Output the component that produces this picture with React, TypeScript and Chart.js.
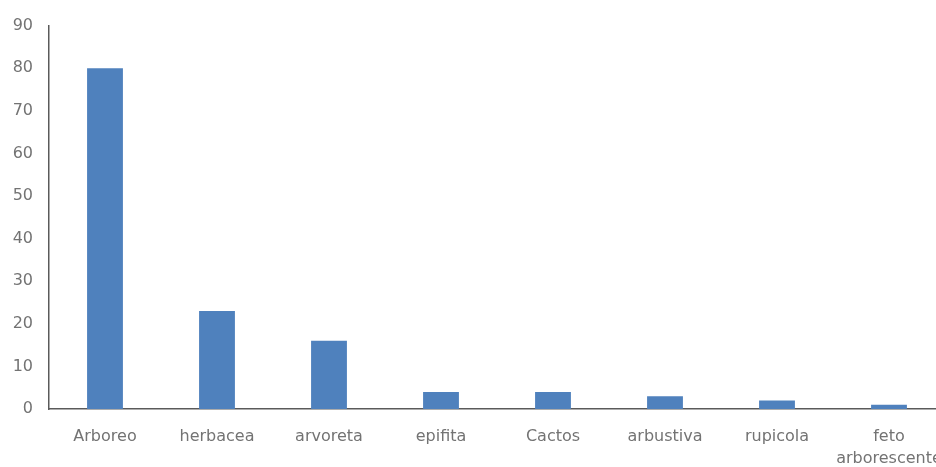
import React, { useEffect, useRef } from "react";
import { Chart, registerables } from "chart.js";

Chart.register(...registerables);

const categories: (string | string[])[] = [
  "Arboreo",
  "herbacea",
  "arvoreta",
  "epifita",
  "Cactos",
  "arbustiva",
  "rupicola",
  ["feto", "arborescente"],
];
const values: number[] = [80, 23, 16, 4, 4, 3, 2, 1];
const yMin = 0;
const yMax = 90;
const yStep = 10;

export default function App() {
  const ref = useRef<HTMLCanvasElement | null>(null);

  useEffect(() => {
    if (!ref.current) return;
    const font = { family: "DejaVu Sans", size: 16, lineHeight: 1.35 };
    const chart = new Chart(ref.current, {
      type: "bar",
      data: {
        labels: categories,
        datasets: [
          {
            data: values,
            backgroundColor: "#4F81BD",
            borderWidth: 0,
            barPercentage: 0.32,
            categoryPercentage: 1,
          },
        ],
      },
      options: {
        responsive: false,
        animation: false,
        devicePixelRatio: 1,
        layout: { padding: { top: 25, right: 55, bottom: 0, left: 0 } },
        plugins: { legend: { display: false }, tooltip: { enabled: false } },
        scales: {
          x: {
            grid: { display: false, drawTicks: false },
            border: { display: true, color: "#5a5a5a", width: 1.5 },
            ticks: {
              color: "#737373",
              font,
              padding: 17,
              maxRotation: 0,
              autoSkip: false,
            },
            afterFit: (s: any) => {
              s.height = 58;
            },
          },
          y: {
            min: yMin,
            max: yMax,
            grid: { display: false, drawTicks: false },
            border: { display: true, color: "#5a5a5a", width: 1.5 },
            ticks: {
              stepSize: yStep,
              color: "#737373",
              font: { family: "DejaVu Sans", size: 16 },
              padding: 16,
            },
            afterFit: (s: any) => {
              s.width = 49;
            },
          },
        },
      },
    });
    return () => chart.destroy();
  }, []);

  return (
    <div
      style={{
        position: "fixed",
        left: 0,
        top: 0,
        width: 936,
        height: 467,
        overflow: "hidden",
        background: "#fff",
      }}
    >
      <canvas ref={ref} width={1000} height={467} style={{ display: "block" }} />
    </div>
  );
}
